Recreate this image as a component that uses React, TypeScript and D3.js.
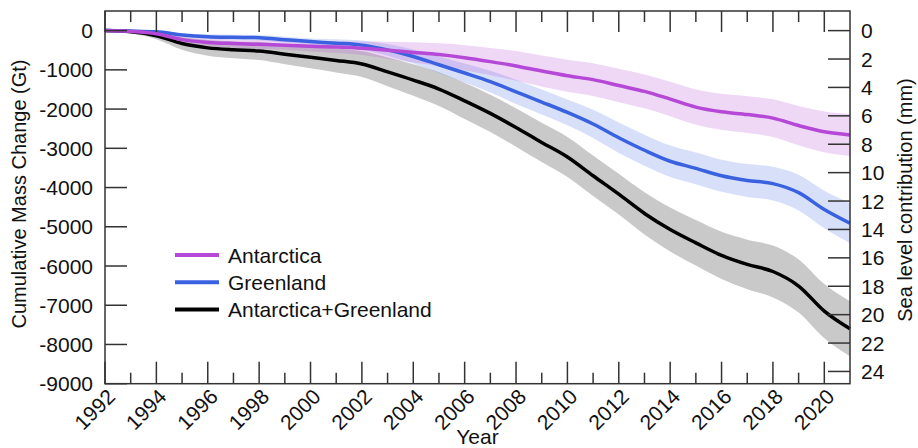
import React from 'react';
import * as d3 from 'd3';

// yearly cumulative mass change (Gt)
const years = [1992, 1993, 1994, 1995, 1996, 1997, 1998, 1999, 2000, 2001, 2002, 2003, 2004, 2005, 2006, 2007, 2008, 2009, 2010, 2011, 2012, 2013, 2014, 2015, 2016, 2017, 2018, 2019, 2020, 2021];
const antarctica = [0, -20, -80, -230, -300, -330, -350, -370, -400, -420, -450, -500, -555, -610, -690, -790, -900, -1030, -1150, -1250, -1400, -1550, -1745, -1950, -2070, -2140, -2230, -2420, -2580, -2660];
const antarcticaErr = [0, 20, 50, 80, 100, 105, 110, 120, 130, 150, 170, 215, 260, 290, 320, 350, 380, 395, 410, 418, 425, 432, 440, 450, 460, 470, 480, 500, 520, 535];
const greenland = [0, -10, -30, -110, -155, -170, -180, -230, -280, -320, -370, -490, -660, -870, -1080, -1300, -1560, -1820, -2085, -2380, -2730, -3050, -3330, -3510, -3700, -3820, -3900, -4130, -4560, -4910];
const greenlandErr = [0, 15, 30, 45, 60, 65, 70, 75, 80, 100, 120, 150, 180, 210, 240, 275, 310, 320, 330, 360, 390, 395, 400, 405, 410, 420, 430, 455, 480, 510];
const combined = [0, -30, -130, -330, -440, -490, -520, -600, -680, -760, -850, -1050, -1260, -1490, -1790, -2110, -2470, -2850, -3220, -3700, -4170, -4660, -5070, -5410, -5730, -5960, -6140, -6510, -7150, -7600];
const combinedErr = [0, 40, 90, 160, 200, 215, 230, 255, 280, 305, 330, 365, 400, 430, 460, 475, 490, 500, 510, 515, 520, 540, 560, 580, 600, 630, 660, 675, 690, 700];

const gtTicks = [0, -1000, -2000, -3000, -4000, -5000, -6000, -7000, -8000, -9000];
const mmTicks = [0, 2, 4, 6, 8, 10, 12, 14, 16, 18, 20, 22, 24];
const yearMajor = [1992, 1994, 1996, 1998, 2000, 2002, 2004, 2006, 2008, 2010, 2012, 2014, 2016, 2018, 2020];
const yearMinor = [1993, 1995, 1997, 1999, 2001, 2003, 2005, 2007, 2009, 2011, 2013, 2015, 2017, 2019];
const GT_PER_MM = 362;

const seriesNames = ['Antarctica', 'Greenland', 'Antarctica+Greenland'];
const seriesColors = ['#b548d6', '#3a62e0', '#000000'];
const bandOpacity = [0.22, 0.2, 0.21];

const W = 918;
const H = 448;
const left = 105;
const right = 850;
const top = 11;
const bottom = 383.7;
const font = '"Liberation Sans", Arial, sans-serif';
const fs = 21;
const axisColor = '#333';

export default function App() {
  const x = d3.scaleLinear().domain([1992, 2021]).range([left, right]);
  const y = d3.scaleLinear().domain([500, -9000]).range([top, bottom]);
  const yR = d3.scaleLinear().domain([-500 / GT_PER_MM, 9000 / GT_PER_MM]).range([top, bottom]);

  const values = [antarctica, greenland, combined];
  const errs = [antarcticaErr, greenlandErr, combinedErr];

  const line = d3.line<number>()
    .x((_, i) => x(years[i]))
    .y(d => y(d))
    .curve(d3.curveMonotoneX);

  const band = (v: number[], e: number[]) =>
    d3.area<number>()
      .x((_, i) => x(years[i]))
      .y0((d, i) => y(d - e[i]))
      .y1((d, i) => y(d + e[i]))
      .curve(d3.curveMonotoneX)(v) || '';

  // draw bands back to front: combined, greenland, antarctica
  const order = [2, 1, 0];

  return (
    <svg width={W} height={H} style={{ position: 'absolute', left: 0, top: 0, background: '#fff' }}
      fontFamily={font}>
      {order.map(k => (
        <path key={'b' + k} d={band(values[k], errs[k])} fill={seriesColors[k]} fillOpacity={bandOpacity[k]} />
      ))}
      {order.map(k => (
        <path key={'l' + k} d={line(values[k]) || ''} fill="none" stroke={seriesColors[k]} strokeWidth={3.5} />
      ))}

      {/* frame */}
      <rect x={left} y={top} width={right - left} height={bottom - top} fill="none" stroke={axisColor} strokeWidth={1.5} />

      {/* x ticks, bottom and top */}
      {yearMajor.map(t => (
        <g key={'xm' + t}>
          <line x1={x(t)} x2={x(t)} y1={bottom} y2={bottom - 22} stroke={axisColor} strokeWidth={1.5} />
          <line x1={x(t)} x2={x(t)} y1={top} y2={top + 21} stroke={axisColor} strokeWidth={1.5} />
          <text transform={`translate(${x(t) + 1},${bottom + 4}) rotate(-45)`} textAnchor="end" dy="0.7em"
            fontSize={fs} fill="#111">{t}</text>
        </g>
      ))}
      {yearMinor.map(t => (
        <g key={'xn' + t}>
          <line x1={x(t)} x2={x(t)} y1={bottom} y2={bottom - 11} stroke={axisColor} strokeWidth={1.5} />
          <line x1={x(t)} x2={x(t)} y1={top} y2={top + 11} stroke={axisColor} strokeWidth={1.5} />
        </g>
      ))}

      {/* left axis (Gt) */}
      {gtTicks.map(t => (
        <g key={'g' + t}>
          <line x1={left} x2={left + 22} y1={y(t)} y2={y(t)} stroke={axisColor} strokeWidth={1.5} />
          <text x={left - 12} y={y(t)} dy="0.36em" textAnchor="end" fontSize={fs} fill="#111">{t}</text>
        </g>
      ))}

      {/* right axis (mm) */}
      {mmTicks.map(t => (
        <g key={'m' + t}>
          <line x1={right} x2={right - 22} y1={yR(t)} y2={yR(t)} stroke={axisColor} strokeWidth={1.5} />
          <text x={right + 11} y={yR(t)} dy="0.36em" textAnchor="start" fontSize={fs} fill="#111">{t}</text>
        </g>
      ))}

      <text x={(left + right) / 2} y={444} textAnchor="middle" fontSize={fs} fill="#111">Year</text>
      <text transform={`translate(26,194) rotate(-90)`} textAnchor="middle" fontSize={20} fill="#111">
        Cumulative Mass Change (Gt)
      </text>
      <text transform={`translate(912,200) rotate(-90)`} textAnchor="middle" fontSize={20} fill="#111">
        Sea level contribution (mm)
      </text>

      {/* legend */}
      {seriesNames.map((name, i) => (
        <g key={name} transform={`translate(175,${255 + i * 27.2})`}>
          <line x1={0} x2={44} y1={0} y2={0} stroke={seriesColors[i]} strokeWidth={4} />
          <text x={53} y={0} dy="0.36em" fontSize={fs} fill="#111">{name}</text>
        </g>
      ))}
    </svg>
  );
}
